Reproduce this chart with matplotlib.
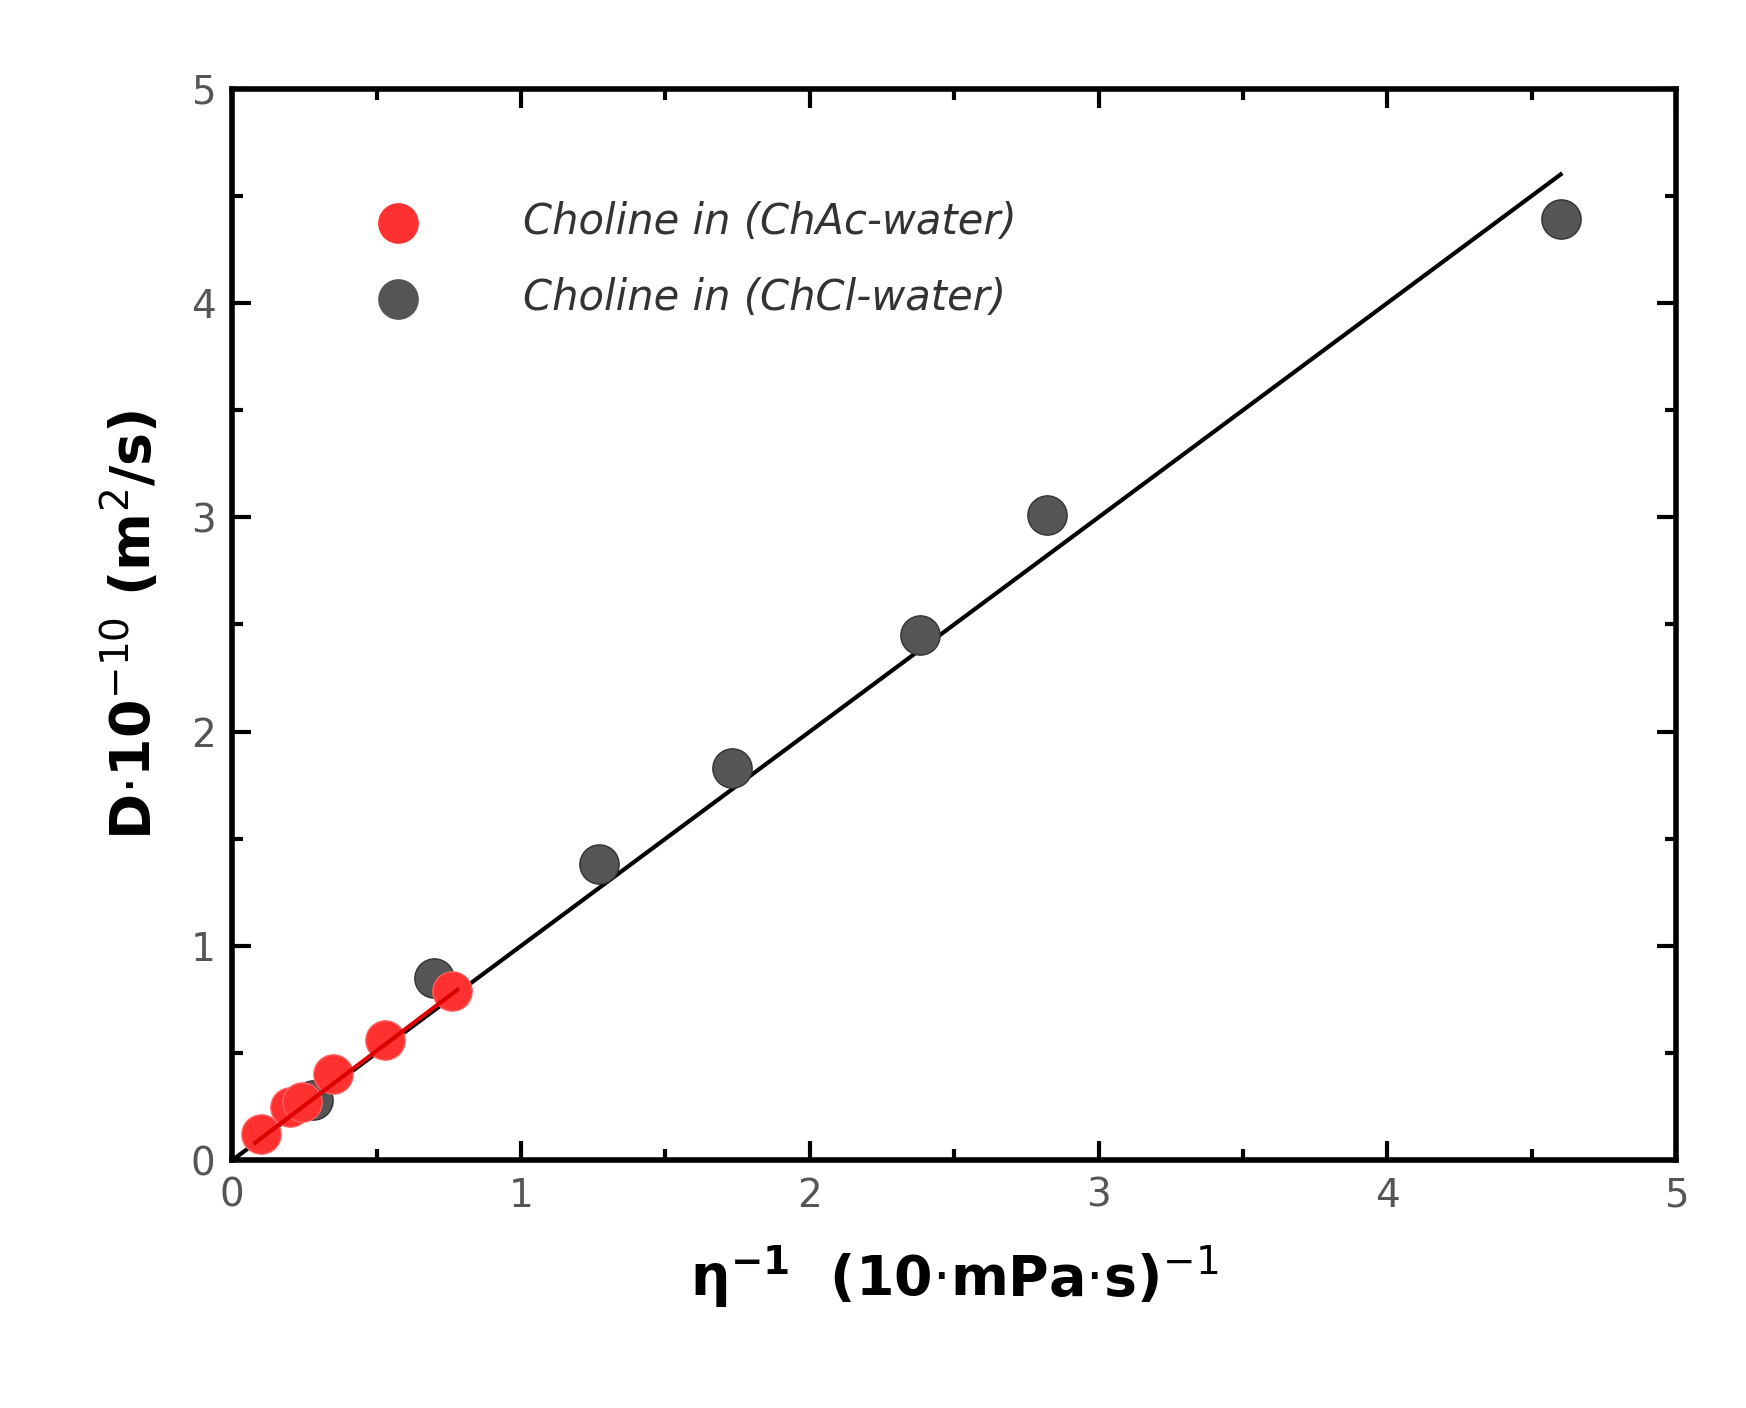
import matplotlib
matplotlib.use("Agg")
import matplotlib.pyplot as plt
import numpy as np

ac_x = [0.10, 0.20, 0.24, 0.35, 0.53, 0.76]
ac_y = [0.12, 0.25, 0.27, 0.40, 0.56, 0.79]
cl_x = [0.28, 0.70, 1.27, 1.73, 2.38, 2.82, 4.60]
cl_y = [0.28, 0.85, 1.38, 1.83, 2.45, 3.01, 4.39]
fit_cl_x = [0.0, 4.6]
fit_ac_x = [0.08, 0.78]

fig = plt.figure(figsize=(17.46, 14.08), dpi=100)
ax = fig.add_axes([0.133, 0.176, 0.827, 0.761])
ax.plot(fit_cl_x, np.array(fit_cl_x) * 1.0, color='black', lw=3, zorder=2)
ax.scatter(cl_x, cl_y, s=800, color='#555555', edgecolors='#333333', zorder=3)
ax.scatter(ac_x, ac_y, s=800, color='#ff3030', edgecolors='#ff6060', zorder=4)
ax.plot(fit_ac_x, np.array(fit_ac_x) * 1.02, color='#dd0000', lw=3, zorder=5)
ax.set_xlim(0, 5); ax.set_ylim(0, 5)
ax.set_xticks([0, 1, 2, 3, 4, 5]); ax.set_yticks([0, 1, 2, 3, 4, 5])
ax.set_xticks(np.arange(0, 5.01, 0.5), minor=True)
ax.set_yticks(np.arange(0, 5.01, 0.5), minor=True)
ax.tick_params(which='both', direction='in', top=True, right=True, width=3, labelsize=28, labelcolor='#555555', pad=12)
ax.tick_params(which='major', length=14)
ax.tick_params(which='minor', length=8)
for s in ax.spines.values():
    s.set_linewidth(4)
ax.set_xlabel(r'$\mathregular{\eta^{-1}}$  (10$\cdot$mPa$\cdot$s)$^{-1}$', fontsize=40, fontweight='bold', labelpad=20)
ax.set_ylabel(r'D$\cdot$10$^{-10}$ (m$^2$/s)', fontsize=40, fontweight='bold', labelpad=20)
ax.scatter([], [], s=800, color='#ff3030', label='Choline in (ChAc-water)')
ax.scatter([], [], s=800, color='#555555', label='Choline in (ChCl-water)')
leg = ax.legend(loc='upper left', bbox_to_anchor=(0.06, 0.93), frameon=False,
                prop={'size': 30, 'style': 'italic'}, labelspacing=0.8, handletextpad=2)
for t in leg.get_texts():
    t.set_color('#333333')
fig.savefig('out.png', dpi=100)
